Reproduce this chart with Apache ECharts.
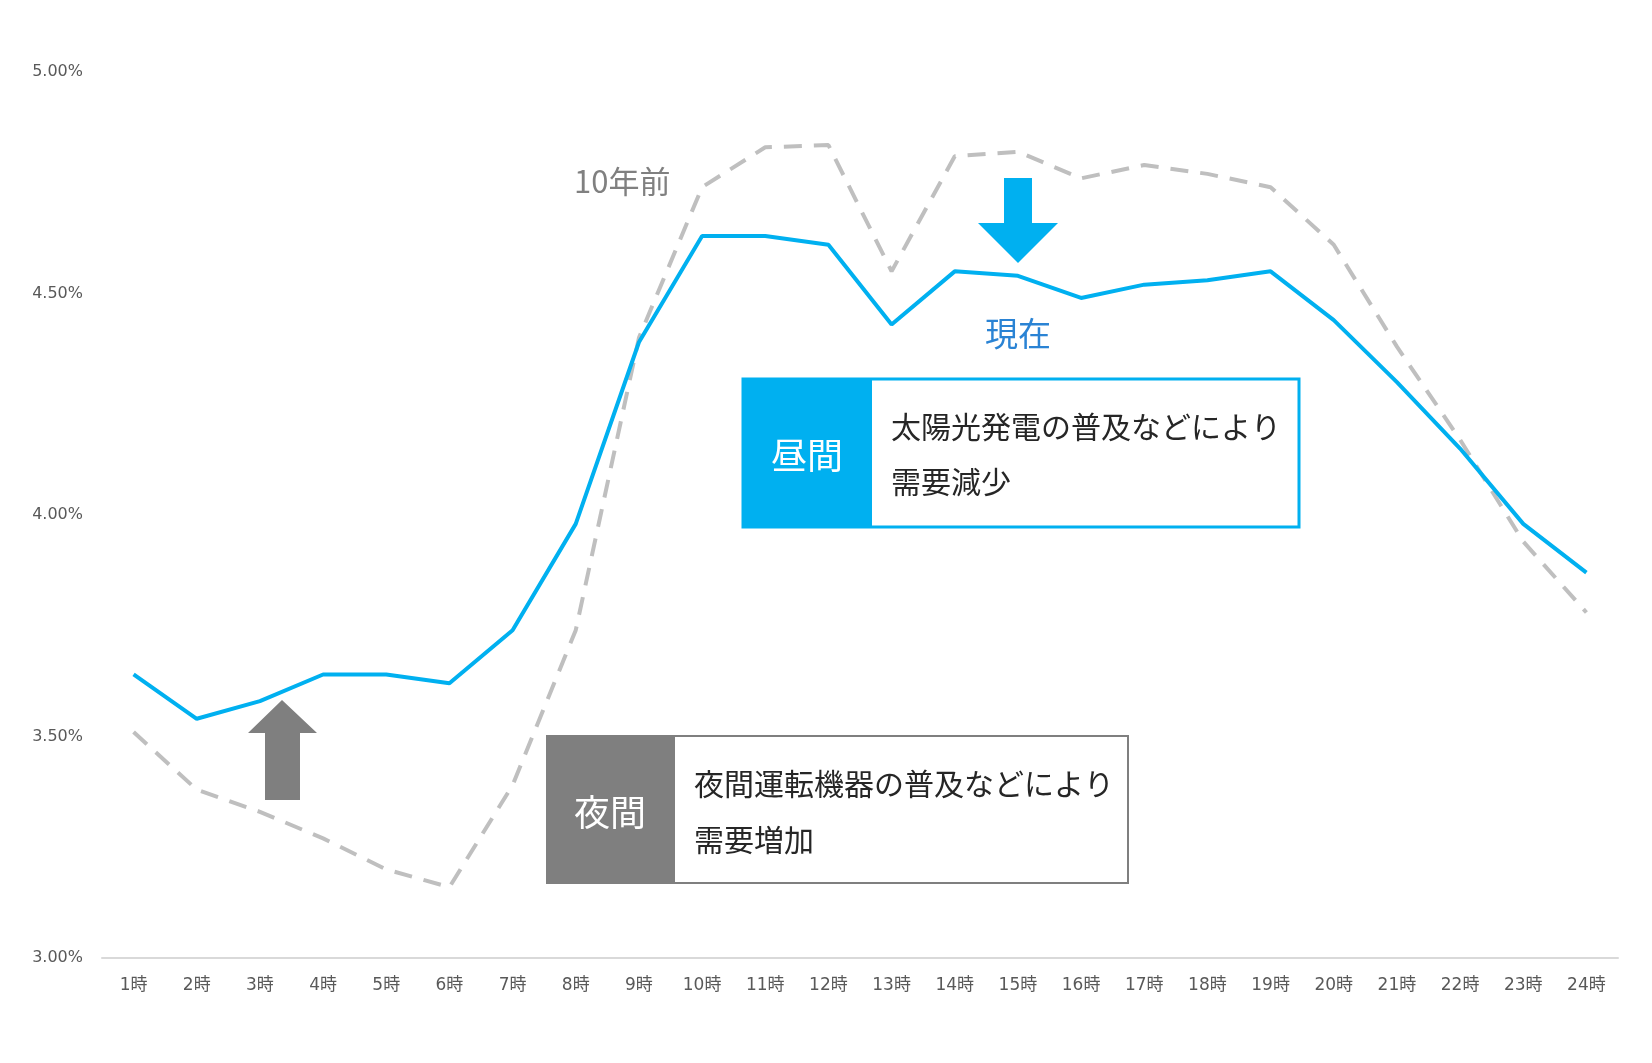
<!DOCTYPE html>
<html>
<head>
<meta charset="utf-8">
<script src="https://cdn.jsdelivr.net/npm/echarts@6/dist/echarts.min.js"></script>
<style>
html,body{margin:0;padding:0;background:#fff;}
#main{width:1652px;height:1063px;}
</style>
</head>
<body>
<div id="main"></div>
<script>
const categories = ['1時','2時','3時','4時','5時','6時','7時','8時','9時','10時','11時','12時','13時','14時','15時','16時','17時','18時','19時','20時','21時','22時','23時','24時'];
const currentValues = [3.64, 3.54, 3.58, 3.64, 3.64, 3.62, 3.74, 3.98, 4.39, 4.63, 4.63, 4.61, 4.43, 4.55, 4.54, 4.49, 4.52, 4.53, 4.55, 4.44, 4.30, 4.15, 3.98, 3.87];
const tenYearsAgoValues = [3.51, 3.38, 3.33, 3.27, 3.20, 3.16, 3.39, 3.74, 4.40, 4.74, 4.83, 4.835, 4.55, 4.81, 4.82, 4.76, 4.79, 4.77, 4.74, 4.61, 4.38, 4.17, 3.94, 3.78];
const yTicks = [3.0, 3.5, 4.0, 4.5, 5.0];

const CJK = '"Noto Sans CJK JP", "Noto Sans", sans-serif';
const chart = echarts.init(document.getElementById('main'));
chart.setOption({
  backgroundColor: '#ffffff',
  animation: false,
  grid: { left: 102, right: 34, top: 72, bottom: 105 },
  xAxis: {
    type: 'category',
    data: categories,
    boundaryGap: true,
    axisLine: { show: true, lineStyle: { color: '#d9d9d9', width: 2 } },
    axisTick: { show: false },
    axisLabel: { color: '#595959', fontSize: 17, margin: 19, fontFamily: '"DejaVu Sans", "Noto Sans CJK JP", sans-serif' }
  },
  yAxis: {
    type: 'value',
    min: yTicks[0],
    max: yTicks[yTicks.length - 1],
    interval: 0.5,
    axisLine: { show: false },
    axisTick: { show: false },
    splitLine: { show: false },
    axisLabel: {
      color: '#595959', fontSize: 16, margin: 19, fontFamily: '"DejaVu Sans", sans-serif',
      formatter: v => v.toFixed(2) + '%'
    }
  },
  series: [
    {
      name: '10年前', type: 'line', data: tenYearsAgoValues, symbol: 'none', z: 2,
      lineStyle: { color: '#bfbfbf', width: 4, type: [18, 12] }
    },
    {
      name: '現在', type: 'line', data: currentValues, symbol: 'none', z: 3,
      lineStyle: { color: '#00b0f0', width: 4 }
    }
  ],
  graphic: [
    { type: 'text', x: 574, y: 181, style: { text: '10年前', fill: '#808080', font: '31px ' + CJK, verticalAlign: 'middle' } },
    { type: 'text', x: 985, y: 333, style: { text: '現在', fill: '#2a83d4', font: '33px ' + CJK, verticalAlign: 'middle' } },
    // blue down arrow
    { type: 'polygon', shape: { points: [[1004,178],[1032,178],[1032,223],[1058,223],[1018,263],[978,223],[1004,223]] }, style: { fill: '#00b0f0' } },
    // gray up arrow
    { type: 'polygon', shape: { points: [[282,700],[317,733],[300,733],[300,800],[265,800],[265,733],[248,733]] }, style: { fill: '#7f7f7f' } },
    // daytime box
    { type: 'rect', shape: { x: 743, y: 379, width: 556, height: 148 }, style: { fill: '#ffffff', stroke: '#00b0f0', lineWidth: 3 } },
    { type: 'rect', shape: { x: 743, y: 379, width: 129, height: 148 }, style: { fill: '#00b0f0' } },
    { type: 'text', x: 807, y: 455, style: { text: '昼間', fill: '#ffffff', font: '36px ' + CJK, align: 'center', verticalAlign: 'middle' } },
    { type: 'text', x: 891, y: 427, style: { text: '太陽光発電の普及などにより', fill: '#262626', font: '30px ' + CJK, verticalAlign: 'middle' } },
    { type: 'text', x: 891, y: 482, style: { text: '需要減少', fill: '#262626', font: '30px ' + CJK, verticalAlign: 'middle' } },
    // night box
    { type: 'rect', shape: { x: 547, y: 736, width: 581, height: 147 }, style: { fill: '#ffffff', stroke: '#7f7f7f', lineWidth: 2 } },
    { type: 'rect', shape: { x: 547, y: 736, width: 128, height: 147 }, style: { fill: '#7f7f7f' } },
    { type: 'text', x: 610, y: 812, style: { text: '夜間', fill: '#ffffff', font: '36px ' + CJK, align: 'center', verticalAlign: 'middle' } },
    { type: 'text', x: 694, y: 784, style: { text: '夜間運転機器の普及などにより', fill: '#262626', font: '30px ' + CJK, verticalAlign: 'middle' } },
    { type: 'text', x: 694, y: 840, style: { text: '需要増加', fill: '#262626', font: '30px ' + CJK, verticalAlign: 'middle' } }
  ]
});
</script>
</body>
</html>
